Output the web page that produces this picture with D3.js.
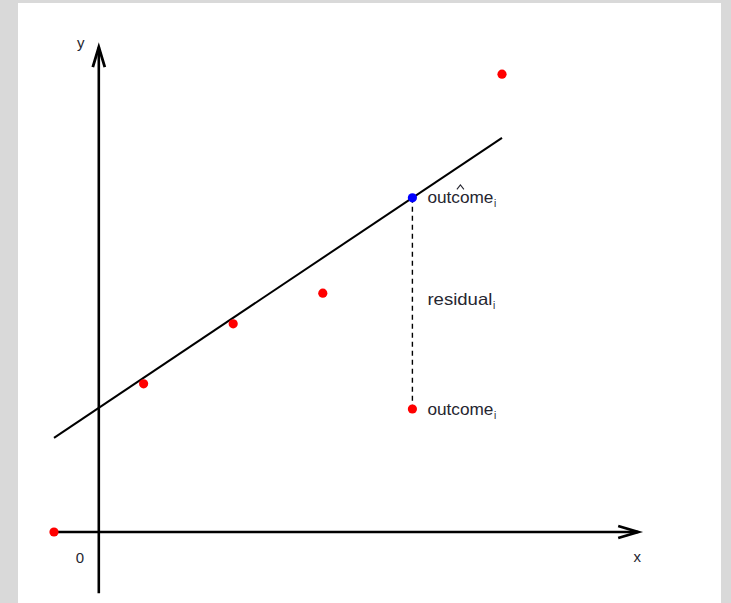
<!DOCTYPE html>
<html>
<head>
<meta charset="utf-8">
<script src="https://cdn.jsdelivr.net/npm/d3@7/dist/d3.min.js"></script>
<style>
  html, body { margin: 0; padding: 0; background: #d9d9d9; }
  svg { display: block; }
  text { font-family: "Liberation Sans", Arial, sans-serif; fill: #262630; }
</style>
</head>
<body>
<svg id="chart" width="731" height="603"></svg>
<script>
// Observations (x, outcome)
const pointX = [-0.5, 0.5, 1.5, 2.5, 3.5, 4.5];
const pointY = [0.0, 2.47, 3.47, 3.98, 2.05, 7.63];

// Fitted regression line: outcome = intercept + slope * x
const intercept = 2.07;
const slope = 1.0;
const lineX = [-0.5, 4.5];

// Observation whose residual is illustrated
const highlightIndex = 4;

// Extent of the drawn coordinate axes (data units)
const xAxisExtent = [-0.5, 6.02];
const yAxisExtent = [-1.02, 8.08];

const svg = d3.select("#chart");

// Panel
svg.append("rect").attr("x", 0).attr("y", 0).attr("width", 731).attr("height", 603).attr("fill", "#d9d9d9");
svg.append("rect").attr("x", 18).attr("y", 3).attr("width", 703).attr("height", 600).attr("fill", "#ffffff");

const x = d3.scaleLinear().domain([-0.5, 4.5]).range([54, 502]);
const y = d3.scaleLinear().domain([0, 1]).range([532, 472]);

const fit = v => intercept + slope * v;

// Axes with open arrowheads
function arrow(x1, y1, x2, y2) {
  const ang = Math.atan2(y2 - y1, x2 - x1);
  const len = 20, half = 6;
  const bx = x2 - len * Math.cos(ang), by = y2 - len * Math.sin(ang);
  const px = -Math.sin(ang) * half, py = Math.cos(ang) * half;
  svg.append("line")
    .attr("x1", x1).attr("y1", y1).attr("x2", x2).attr("y2", y2)
    .attr("stroke", "#000").attr("stroke-width", 2.6);
  svg.append("path")
    .attr("d", `M${bx + px},${by + py}L${x2},${y2}L${bx - px},${by - py}`)
    .attr("fill", "none").attr("stroke", "#000").attr("stroke-width", 2.8)
    .attr("stroke-linejoin", "miter");
}
arrow(x(xAxisExtent[0]), y(0), x(xAxisExtent[1]), y(0));
arrow(x(0), y(yAxisExtent[0]), x(0), y(yAxisExtent[1]));

// Axis labels
svg.append("text").attr("x", x(0) - 19).attr("y", y(0) + 31)
  .attr("text-anchor", "middle").attr("font-size", 15).text("0");
svg.append("text").attr("x", x(xAxisExtent[1]) - 1).attr("y", y(0) + 30)
  .attr("text-anchor", "middle").attr("font-size", 15).text("x");
svg.append("text").attr("x", x(0) - 18).attr("y", y(yAxisExtent[1]) + 1)
  .attr("text-anchor", "middle").attr("font-size", 15).text("y");

// Regression line
svg.append("line")
  .attr("x1", x(lineX[0])).attr("y1", y(fit(lineX[0])))
  .attr("x2", x(lineX[1])).attr("y2", y(fit(lineX[1])))
  .attr("stroke", "#000").attr("stroke-width", 2);

// Residual segment
const hx = pointX[highlightIndex];
const hy = pointY[highlightIndex];
svg.append("line")
  .attr("x1", x(hx)).attr("y1", y(fit(hx)))
  .attr("x2", x(hx)).attr("y2", y(hy))
  .attr("stroke", "#000").attr("stroke-width", 1.4)
  .attr("stroke-dasharray", "5,4");

// Observed points
svg.selectAll("circle.obs")
  .data(d3.range(pointX.length))
  .join("circle")
  .attr("class", "obs")
  .attr("cx", i => x(pointX[i]))
  .attr("cy", i => y(pointY[i]))
  .attr("r", 4.6)
  .attr("fill", "#ff0000");

// Fitted value
svg.append("circle")
  .attr("cx", x(hx)).attr("cy", y(fit(hx)))
  .attr("r", 4.6).attr("fill", "#0000ff");

// Annotations
function label(px, py, main, sub, len, hat) {
  const t = svg.append("text").attr("x", px).attr("y", py).attr("font-size", 16.5);
  t.append("tspan").text(main).attr("textLength", len).attr("lengthAdjust", "spacingAndGlyphs");
  t.append("tspan").attr("dy", 4).attr("dx", 0.5).attr("font-size", 10).text(sub);
  if (hat) {
    const cx = px + len / 2;
    svg.append("path")
      .attr("d", `M${cx - 3.5},${py - 14}L${cx},${py - 18.5}L${cx + 3.5},${py - 14}`)
      .attr("fill", "none").attr("stroke", "#262630").attr("stroke-width", 1.1);
  }
}
const lx = x(hx) + 15;
label(lx, y(fit(hx)) + 5.5, "outcome", "i", 66, true);
label(lx, (y(fit(hx)) + y(hy)) / 2 + 2, "residual", "i", 65, false);
label(lx, y(hy) + 5.5, "outcome", "i", 66, false);
</script>
</body>
</html>
